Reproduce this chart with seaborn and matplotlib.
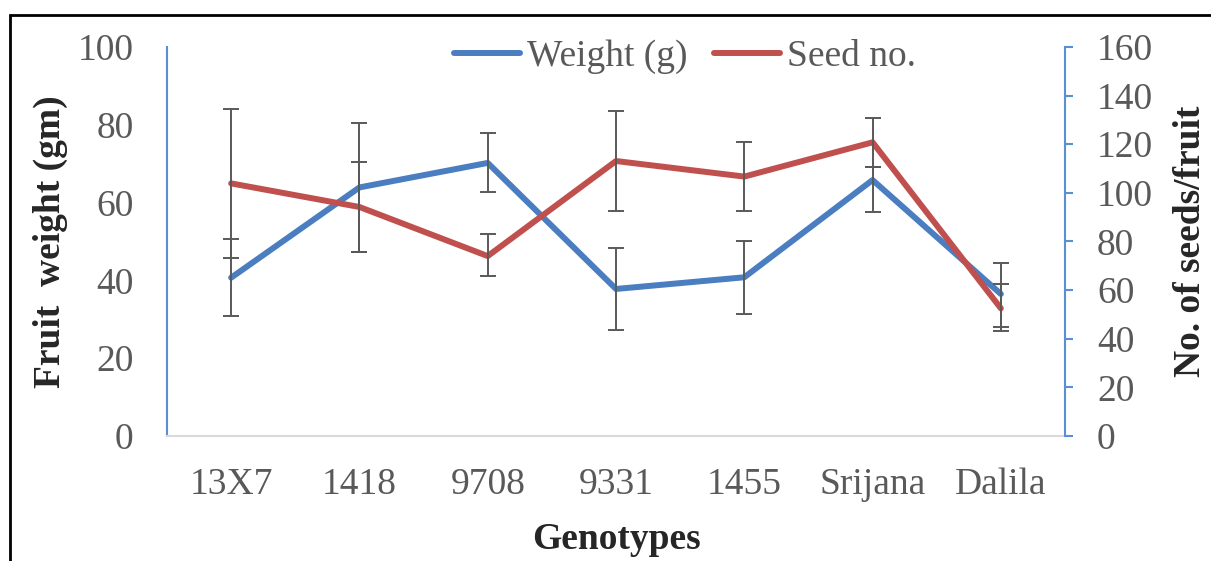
import numpy as np
import pandas as pd
import matplotlib
matplotlib.use("Agg")
import matplotlib.pyplot as plt
from matplotlib.patches import Rectangle
import seaborn as sns

genotypes = ["13X7", "1418", "9708", "9331", "1455", "Srijana", "Dalila"]
weight = [40.7, 63.9, 70.2, 37.8, 40.8, 65.8, 36.5]
weight_lo = [30.8, 47.3, 62.7, 27.3, 31.4, 57.6, 28.0]
weight_hi = [50.6, 80.5, 77.9, 48.3, 50.1, 69.2, 44.5]
seed = [103.9, 94.2, 74.0, 113.1, 106.7, 120.8, 52.5]
seed_lo = [73.2, 75.7, 65.8, 92.5, 92.5, 110.7, 43.2]
seed_hi = [134.5, 112.7, 83.1, 133.6, 120.9, 130.8, 62.5]
left_ticks = [0, 20, 40, 60, 80, 100]
right_ticks = [0, 20, 40, 60, 80, 100, 120, 140, 160]

sns.set_style("white")
plt.rcParams["font.family"] = ["Liberation Serif", "DejaVu Serif"]

BLUE = "#4A7EC0"
RED = "#C0504D"
SPINE_BLUE = "#5B8FD3"
GRAY = "#595959"
FS = 27

df = pd.DataFrame({"genotype": genotypes, "weight": weight, "seed": seed})

fig = plt.figure(figsize=(12.11, 5.61), dpi=100)
ax = fig.add_axes([167 / 1211, 1 - 436 / 561, (1065 - 167) / 1211, (436 - 47) / 561])
ax2 = ax.twinx()

sns.lineplot(data=df, x="genotype", y="weight", ax=ax, color=BLUE, lw=4.3,
             sort=False, label="Weight (g)")
sns.lineplot(data=df, x="genotype", y="seed", ax=ax2, color=RED, lw=4.3,
             sort=False, label="Seed no.")

w = np.array(weight); s = np.array(seed)
werr = np.vstack([w - np.array(weight_lo), np.array(weight_hi) - w])
serr = np.vstack([s - np.array(seed_lo), np.array(seed_hi) - s])
ax.errorbar(genotypes, weight, yerr=werr, fmt="none", ecolor=GRAY,
            elinewidth=1.4, capsize=6, capthick=1.4, zorder=3)
ax2.errorbar(genotypes, seed, yerr=serr, fmt="none", ecolor=GRAY,
             elinewidth=1.4, capsize=6, capthick=1.4, zorder=3)

for a in (ax, ax2):
    lg = a.get_legend()
    if lg is not None:
        lg.remove()

ax.set_xlim(-0.5, 6.5)
ax.set_ylim(0, 100)
ax2.set_ylim(0, 160)
ax.set_yticks(left_ticks)
ax2.set_yticks(right_ticks)

for sp in ["top", "right"]:
    ax.spines[sp].set_visible(False)
ax.spines["left"].set_color(SPINE_BLUE)
ax.spines["left"].set_linewidth(1.5)
ax.spines["bottom"].set_color("#D9D9D9")
ax.spines["bottom"].set_linewidth(1.5)
for sp in ["top", "left", "bottom"]:
    ax2.spines[sp].set_visible(False)
ax2.spines["right"].set_color(SPINE_BLUE)
ax2.spines["right"].set_linewidth(1.5)

ax.tick_params(axis="y", length=0, pad=24, labelsize=FS, labelcolor=GRAY)
ax.tick_params(axis="x", length=0, pad=23, labelsize=FS, labelcolor=GRAY)
ax2.tick_params(axis="y", length=6, width=1.5, color=SPINE_BLUE, direction="out",
                pad=17, labelsize=FS, labelcolor=GRAY)

ax.set_xlabel("Genotypes", fontsize=FS, fontweight="bold", labelpad=14)
ax.set_ylabel("Fruit  weight (gm)", fontsize=FS, fontweight="bold", labelpad=7)
ax2.set_ylabel("No. of seeds/fruit", fontsize=FS, fontweight="bold", labelpad=14,
               rotation=90)

h1, l1 = ax.get_legend_handles_labels()
h2, l2 = ax2.get_legend_handles_labels()
ax2.legend(h1 + h2, l1 + l2, loc="center", bbox_to_anchor=(0.577, 0.974),
           ncol=2, frameon=False, fontsize=FS, handlelength=1.75,
           handletextpad=0.2, columnspacing=0.7, labelcolor=GRAY)

fig.patches.append(Rectangle((10 / 1211, -0.1), 1.2, (561 - 15) / 561 + 0.1,
                             transform=fig.transFigure, fill=False,
                             edgecolor="black", linewidth=2))

fig.savefig("out.png", dpi=100)
